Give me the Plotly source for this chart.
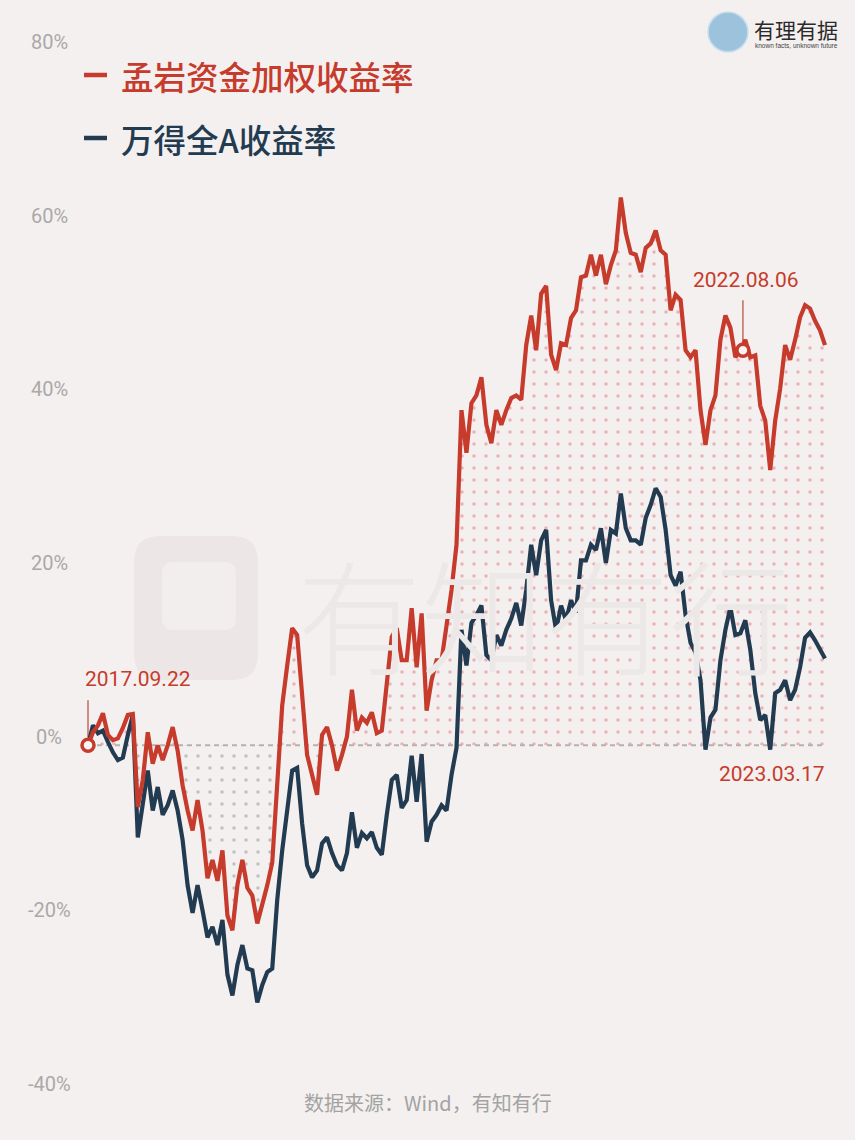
import numpy as np
import pandas as pd
import plotly.graph_objects as go

# ---------------- data ----------------
start_date = "2017-09-22"
end_date = "2023-03-17"

mengyan_weighted = [
    -1.0, 0.5, 1.3, 2.7, 0.2, -0.4, -0.2, 1.0, 2.5, 2.6,
    -8.1, -5.0, 0.5, -3.1, -1.0, -2.7, -1.0, 1.1, -1.6, -5.6,
    -8.5, -10.8, -7.3, -10.8, -16.3, -14.2, -16.6, -13.1, -20.6, -22.3,
    -17.1, -14.2, -17.4, -18.3, -21.5, -19.4, -17.1, -14.5, -5.0, 3.6,
    8.2, 12.5, 11.7, 4.2, -2.1, -4.4, -6.7, 0.2, 1.1, -1.0,
    -3.9, -2.1, 0.0, 5.4, 0.7, 2.2, 1.6, 2.8, 0.4, 0.7,
    6.2, 11.5, 12.5, 8.8, 8.8, 14.8, 8.0, 14.2, 3.0, 6.5,
    8.8, 8.8, 12.8, 16.9, 22.1, 37.6, 32.7, 38.4, 39.3, 41.4,
    35.9, 33.8, 37.6, 35.9, 37.6, 39.0, 39.3, 38.8, 45.1, 48.5,
    44.5, 51.0, 51.9, 44.0, 42.2, 45.3, 45.1, 48.2, 49.1, 52.9,
    53.1, 55.5, 53.1, 55.5, 52.1, 54.3, 56.0, 62.1, 58.0, 55.7,
    55.5, 53.5, 56.3, 56.8, 58.3, 56.0, 55.5, 49.1, 50.9, 50.3,
    44.5, 43.7, 44.5, 37.6, 33.6, 37.6, 39.3, 45.7, 48.5, 47.1,
    43.7, 44.5, 45.7, 43.7, 43.9, 38.1, 36.4, 30.7, 36.4, 40.1,
    45.1, 43.4, 45.7, 48.3, 49.7, 49.3, 47.9, 46.8, 45.1,
]

wind_all_a = [
    -1.0, 1.3, 0.4, 0.7, -0.6, -1.8, -2.7, -2.4, 0.2, 2.5,
    -11.6, -7.3, -3.9, -8.5, -5.8, -9.0, -7.9, -6.2, -8.5, -11.9,
    -17.1, -20.3, -17.1, -20.0, -23.1, -21.9, -24.0, -21.1, -27.4, -29.8,
    -26.3, -24.0, -26.7, -26.9, -30.6, -28.6, -27.1, -26.7, -18.8, -13.1,
    -8.7, -3.9, -3.6, -10.0, -14.8, -16.2, -15.4, -12.3, -11.6, -13.4,
    -14.8, -15.4, -13.4, -8.7, -12.8, -11.1, -11.7, -11.0, -12.8, -13.6,
    -9.0, -5.0, -4.4, -8.2, -7.3, -2.2, -7.5, -2.0, -12.1, -9.8,
    -9.0, -7.9, -8.5, -4.4, -1.3, 12.3, 8.2, 13.1, 14.0, 15.1,
    9.4, 8.8, 11.7, 10.5, 12.3, 13.6, 15.4, 12.8, 16.9, 22.1,
    18.6, 22.6, 23.8, 15.7, 12.3, 15.1, 13.4, 15.7, 14.3, 20.3,
    20.3, 22.1, 21.5, 24.0, 20.0, 23.8, 23.4, 28.0, 24.0, 22.6,
    22.6, 22.1, 25.2, 26.7, 28.6, 27.6, 23.8, 18.6, 17.4, 19.0,
    14.0, 10.8, 9.7, 6.5, -1.5, 2.2, 3.1, 8.8, 12.3, 14.9,
    11.7, 11.9, 13.4, 10.0, 5.0, 1.9, 2.5, -1.5, 5.0, 5.4,
    6.5, 4.2, 5.4, 8.0, 11.4, 12.0, 11.1, 10.0, 9.0,
]

series_names = ["孟岩资金加权收益率", "万得全A收益率"]
tick_values = [80, 60, 40, 20, 0, -20, -40]
tick_labels = ["80%", "60%", "40%", "20%", "0%", "-20%", "-40%"]
mark_dates = ["2017-09-22", "2022-08-06"]
mark_values = [-1.0, 44.5]
mark_labels = ["2017.09.22", "2022.08.06"]
end_label = "2023.03.17"
source_text = "数据来源：Wind，有知有行"
watermark_text = "有知有行"
brand_text = "有理有据"
brand_sub = "known facts, unknown future"

# ---------------- styling ----------------
W, H = 855, 1140
MT, MB = 42, 56
BG = "#f4f0ef"
RED = "#c63b2c"
NAVY = "#233b51"
RED_DOT = "#e0707a"
GRAY_DOT = "#82928d"
TICK = "#a9a9a9"
TRANSP = "rgba(0,0,0,0)"
NUM_FONT = "Roboto"
CJK_FONT = "Noto Sans CJK SC"


def px(x):
    return x / W


def py(y):
    return (H - MB - y) / (H - MB - MT)


dates = pd.date_range(start_date, end_date, periods=len(mengyan_weighted))
red = np.array(mengyan_weighted)
blue = np.array(wind_all_a)
base = np.full(len(red), red[0])
upper = np.maximum(red, base)
lower = np.minimum(red, base)

span = dates[-1] - dates[0]
x_range = [dates[0] - span * (88 / 737), dates[-1] + span * (30 / 737)]

fig = go.Figure()

# dotted fills (above / below the starting level)
fig.add_trace(go.Scatter(x=dates, y=base, mode="lines", line=dict(width=0),
                         hoverinfo="skip", showlegend=False))
fig.add_trace(go.Scatter(x=dates, y=upper, mode="lines", line=dict(width=0),
                         fill="tonexty", fillcolor=TRANSP,
                         fillpattern=dict(shape=".", fgcolor=RED_DOT, bgcolor=TRANSP,
                                          size=12, solidity=0.065),
                         hoverinfo="skip", showlegend=False))
fig.add_trace(go.Scatter(x=dates, y=base, mode="lines", line=dict(width=0),
                         hoverinfo="skip", showlegend=False))
fig.add_trace(go.Scatter(x=dates, y=lower, mode="lines", line=dict(width=0),
                         fill="tonexty", fillcolor=TRANSP,
                         fillpattern=dict(shape=".", fgcolor=GRAY_DOT, bgcolor=TRANSP,
                                          size=12, solidity=0.065),
                         hoverinfo="skip", showlegend=False))

# dashed baseline
fig.add_trace(go.Scatter(x=[dates[0], dates[-1]], y=[base[0], base[-1]], mode="lines",
                         line=dict(color="#b4b2b1", width=2, dash="5px,4px"),
                         hoverinfo="skip", showlegend=False))

# lines
fig.add_trace(go.Scatter(x=dates, y=blue, mode="lines", name=series_names[1],
                         line=dict(color=NAVY, width=4.2)))
fig.add_trace(go.Scatter(x=dates, y=red, mode="lines", name=series_names[0],
                         line=dict(color=RED, width=4.2)))

# marked points
fig.add_trace(go.Scatter(x=mark_dates, y=mark_values, mode="markers", cliponaxis=False,
                         marker=dict(size=12, color="#f8f5f4", line=dict(color=RED, width=3.5)),
                         hoverinfo="skip", showlegend=False))

shapes = []
annotations = []

# pointer lines for marked points
for d, v, lo, hi in zip(mark_dates, mark_values, [8, 8], [45, 50]):
    shapes.append(dict(type="line", xref="x", yref="y", ysizemode="pixel", yanchor=v,
                       x0=d, x1=d, y0=lo, y1=hi, layer="below",
                       line=dict(color="#c46a5e", width=1.5)))

annotations.append(dict(x=mark_dates[0], y=mark_values[0], xref="x", yref="y",
                        text=mark_labels[0], showarrow=False, xanchor="left", yanchor="middle",
                        xshift=-5, yshift=66, font=dict(family=NUM_FONT, size=21, color=RED)))
annotations.append(dict(x=mark_dates[1], y=mark_values[1], xref="x", yref="y",
                        text=mark_labels[1], showarrow=False, xanchor="center", yanchor="middle",
                        xshift=3, yshift=70, font=dict(family=NUM_FONT, size=21, color=RED)))
annotations.append(dict(x=dates[-1], y=base[-1], xref="x", yref="y",
                        text=end_label, showarrow=False, xanchor="right", yanchor="middle",
                        xshift=2, yshift=-29, font=dict(family=NUM_FONT, size=21, color=RED)))

# y tick labels (centred)
for v, t in zip(tick_values, tick_labels):
    annotations.append(dict(x=px(49), y=v, xref="paper", yref="y", text=t, showarrow=False,
                            xanchor="center", yanchor="middle",
                            font=dict(family=NUM_FONT, size=20, color=TICK)))

# legend
for name, col, yy in zip(series_names, [RED, NAVY], [75, 138]):
    shapes.append(dict(type="line", xref="paper", yref="paper", x0=px(84), x1=px(107),
                       y0=py(yy), y1=py(yy), line=dict(color=col, width=4.5)))
    annotations.append(dict(x=px(119), y=py(yy), xref="paper", yref="paper", text=name,
                            showarrow=False, xanchor="left", yanchor="middle",
                            font=dict(family=CJK_FONT, size=32.5, color=col, weight=500)))

# source
annotations.append(dict(x=px(428), y=py(1102), xref="paper", yref="paper", text=source_text,
                        showarrow=False, xanchor="center", yanchor="middle",
                        font=dict(family=CJK_FONT, size=20, color="#a3a3a3")))

# watermark
annotations.append(dict(x=px(545), y=py(612), xref="paper", yref="paper", text=watermark_text,
                        showarrow=False, xanchor="center", yanchor="middle",
                        font=dict(family=CJK_FONT, size=124, color="#ece8e7", weight=300)))


def rrect(x0, y0, x1, y1, r):
    pts = [
        f"M{px(x0 + r)},{py(y0)}", f"L{px(x1 - r)},{py(y0)}", f"Q{px(x1)},{py(y0)} {px(x1)},{py(y0 + r)}",
        f"L{px(x1)},{py(y1 - r)}", f"Q{px(x1)},{py(y1)} {px(x1 - r)},{py(y1)}",
        f"L{px(x0 + r)},{py(y1)}", f"Q{px(x0)},{py(y1)} {px(x0)},{py(y1 - r)}",
        f"L{px(x0)},{py(y0 + r)}", f"Q{px(x0)},{py(y0)} {px(x0 + r)},{py(y0)}", "Z",
    ]
    return " ".join(pts)


shapes.append(dict(type="path", xref="paper", yref="paper", path=rrect(134, 536, 258, 680, 26),
                   fillcolor="#ece7e6", line=dict(width=0), layer="below"))
shapes.append(dict(type="path", xref="paper", yref="paper", path=rrect(162, 562, 236, 630, 12),
                   fillcolor="#f2eeed", line=dict(width=0), layer="below"))

# brand logo (top right)
shapes.append(dict(type="circle", xref="paper", yref="paper", x0=px(708), x1=px(748),
                   y0=py(52), y1=py(12), fillcolor="#9dc3dc", line=dict(color="#c9dfee", width=1.5)))
annotations.append(dict(x=px(752), y=py(29), xref="paper", yref="paper", text=brand_text,
                        showarrow=False, xanchor="left", yanchor="middle",
                        font=dict(family=CJK_FONT, size=21, color="#2a2a2a")))
annotations.append(dict(x=px(753), y=py(46), xref="paper", yref="paper", text=brand_sub,
                        showarrow=False, xanchor="left", yanchor="middle",
                        font=dict(family="Liberation Sans", size=6.5, color="#444444")))

fig.update_layout(
    width=W, height=H,
    margin=dict(l=0, r=0, t=MT, b=MB),
    paper_bgcolor=BG, plot_bgcolor=BG,
    showlegend=False,
    xaxis=dict(visible=False, range=x_range),
    yaxis=dict(visible=False, range=[-40, 80]),
    shapes=shapes,
    annotations=annotations,
)

fig.write_html(
    "out.html",
    config={"displayModeBar": False},
    post_script="document.body.style.margin='0px';document.body.style.background='#f4f0ef';",
)
